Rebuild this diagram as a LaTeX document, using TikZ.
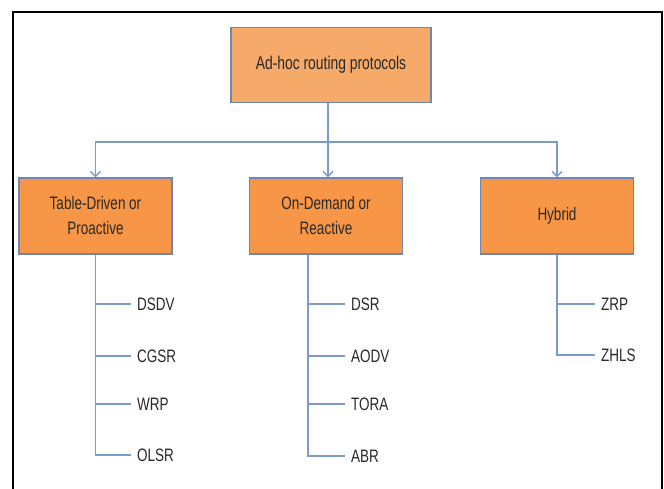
\documentclass[tikz,border=0pt]{standalone}
\usepackage{fontspec}
\setmainfont{Liberation Sans}[FakeStretch=0.75]
\definecolor{rootorange}{RGB}{246, 170, 106}
\definecolor{catorange}{RGB}{247, 150, 70}
\definecolor{linkblue}{RGB}{125, 155, 200}
\definecolor{edgeblue}{RGB}{110, 135, 175}
\definecolor{txtgray}{RGB}{40, 40, 40}
\usetikzlibrary{arrows.meta, positioning}
\tikzset{
  boxnode/.style={draw=edgeblue, line width=1.2pt, align=center, text=txtgray, inner sep=0pt, font=\fontsize{18}{25}\selectfont},
  rootnode/.style={boxnode, fill=rootorange, minimum width=200pt, minimum height=75pt, font=\fontsize{18.5}{20}\selectfont},
  catnode/.style={boxnode, fill=catorange, minimum width=153pt, minimum height=76pt},
  leafnode/.style={anchor=west, inner sep=6pt, text=txtgray, font=\fontsize{18}{20}\selectfont},
  tline/.style={linkblue, line width=1.5pt},
  tarrow/.style={tline, -{Straight Barb[length=5pt, width=10pt]}},
}

\begin{document}
\begin{tikzpicture}[x=1pt, y=-1pt]
  \useasboundingbox (0,0) rectangle (664,488);
  \draw[line width=1.8pt] (13,495) -- (13,12) -- (662,12) -- (662,495);

  \node[rootnode] (root) at (331,65) {Ad-hoc routing protocols};
  \node[catnode] (tdp) at (95.5,216) {Table-Driven or\\Proactive};
  \node[catnode] (odr) at (326,216) {On-Demand or\\Reactive};
  \node[catnode] (hyb) at (557,216) {Hybrid};
  \coordinate (split) at (328,142);

  \draw[tline] (root.south -| split) -- (split);
  \draw[tarrow] (split) -| (tdp);
  \draw[tarrow] (split) -- (split |- odr.north);
  \draw[tarrow] (split) -| (hyb);

  % proactive
  \node[leafnode] (dsdv) at (131,304) {DSDV};
  \node[leafnode] (cgsr) at (131,356) {CGSR};
  \node[leafnode] (wrp)  at (131,404) {WRP};
  \node[leafnode] (olsr) at (131,455) {OLSR};
  \foreach \leaf in {dsdv, cgsr, wrp, olsr}
    \draw[tline] (tdp.south) |- (\leaf);

  % reactive
  \node[leafnode] (dsr)  at (345,304) {DSR};
  \node[leafnode] (aodv) at (345,356) {AODV};
  \node[leafnode] (tora) at (345,404) {TORA};
  \node[leafnode] (abr)  at (345,456) {ABR};
  \foreach \leaf in {dsr, aodv, tora, abr}
    \draw[tline] ([xshift=-18pt]odr.south) |- (\leaf);

  % hybrid
  \node[leafnode] (zrp)  at (595,304) {ZRP};
  \node[leafnode] (zhls) at (595,355) {ZHLS};
  \foreach \leaf in {zrp, zhls}
    \draw[tline] (hyb.south) |- (\leaf);
\end{tikzpicture}
\end{document}
